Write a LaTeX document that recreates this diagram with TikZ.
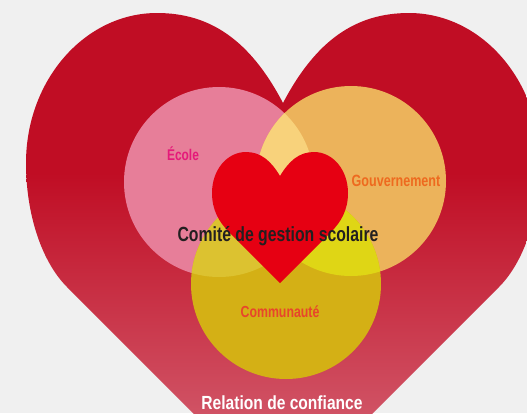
\documentclass[tikz,border=0pt]{standalone}
\usepackage{fontspec}
\newfontfamily\condA[FakeStretch=0.77]{Liberation Sans Bold}
\newfontfamily\condB[FakeStretch=0.82]{Liberation Sans Bold}
\definecolor{bg}{RGB}{240,240,240}
\definecolor{heartdark}{RGB}{192,13,36}
\definecolor{heartlight}{RGB}{208,82,100}
\definecolor{pinkc}{RGB}{231,126,153}
\definecolor{orangec}{RGB}{236,179,91}
\definecolor{yellowc}{RGB}{212,176,21}
\definecolor{pocol}{RGB}{248,210,123}
\definecolor{pycol}{RGB}{220,194,48}
\definecolor{oycol}{RGB}{223,214,21}
\definecolor{pyocol}{RGB}{232,214,60}
\definecolor{smallred}{RGB}{230,0,18}
\definecolor{ecolec}{RGB}{229,25,122}
\definecolor{gouvc}{RGB}{238,106,31}
\definecolor{commc}{RGB}{232,69,43}
\definecolor{comitec}{RGB}{35,31,32}
\tikzset{
  lbl/.style={inner sep=0pt, font=\condA\fontsize{#1}{#1}\selectfont},
  lblb/.style={inner sep=0pt, font=\condB\fontsize{#1}{#1}\selectfont},
}
\begin{document}
\begin{tikzpicture}[x=1pt,y=-1pt]
\useasboundingbox (0,0) rectangle (527,413);
\fill[bg] (0,0) rectangle (527,413);
% big heart
\begin{scope}
\clip (283,103) .. controls (250,40) and (210,13) .. (157,13)
  .. controls (85,13) and (26,80) .. (26,163)
  .. controls (26,215) and (42,262) .. (67,287)
  -- (283,503) -- (499,287)
  .. controls (524,262) and (540,215) .. (540,163)
  .. controls (540,80) and (481,13) .. (409,13)
  .. controls (356,13) and (316,40) .. (283,103) -- cycle;
\fill[heartdark] (0,0) rectangle (560,174);
\shade[top color=heartdark, bottom color=heartlight] (0,173) rectangle (560,413);
\end{scope}
% circles
\coordinate (P) at (219,182);
\coordinate (O) at (351,181);
\coordinate (Y) at (286,284);
\fill[pinkc] (P) circle[radius=95pt];
\fill[orangec] (O) circle[radius=95pt];
\fill[yellowc] (Y) circle[radius=95pt];
\begin{scope}\clip (P) circle[radius=95pt]; \fill[pocol] (O) circle[radius=95pt];\end{scope}
\begin{scope}\clip (P) circle[radius=95pt]; \fill[pycol] (Y) circle[radius=95pt];\end{scope}
\begin{scope}\clip (O) circle[radius=95pt]; \fill[oycol] (Y) circle[radius=95pt];\end{scope}
\begin{scope}\clip (P) circle[radius=95pt]; \clip (O) circle[radius=95pt]; \fill[pyocol] (Y) circle[radius=95pt];\end{scope}
\node[lbl=15.5, text=ecolec] (ecole) at (183,154) {École};
\node[lbl=16.3, text=gouvc] (gouv) at (396,181) {Gouvernement};
\node[lbl=16, text=commc] (comm) at (280,312) {Communauté};
% small heart
\fill[smallred] (280,176) .. controls (271,161) and (261,152) .. (246,152)
  .. controls (227,152) and (212,170) .. (212,193)
  .. controls (212,210) and (219,222) .. (229,232)
  -- (280,283) -- (331,232)
  .. controls (341,222) and (348,210) .. (348,193)
  .. controls (348,170) and (333,152) .. (314,152)
  .. controls (299,152) and (289,161) .. (280,176) -- cycle;
\node[lbl=20.5, text=comitec] (comite) at (278,236) {Comité de gestion scolaire};
\node[lblb=19, text=white] (relation) at (282,403) {Relation de confiance};
\end{tikzpicture}
\end{document}
